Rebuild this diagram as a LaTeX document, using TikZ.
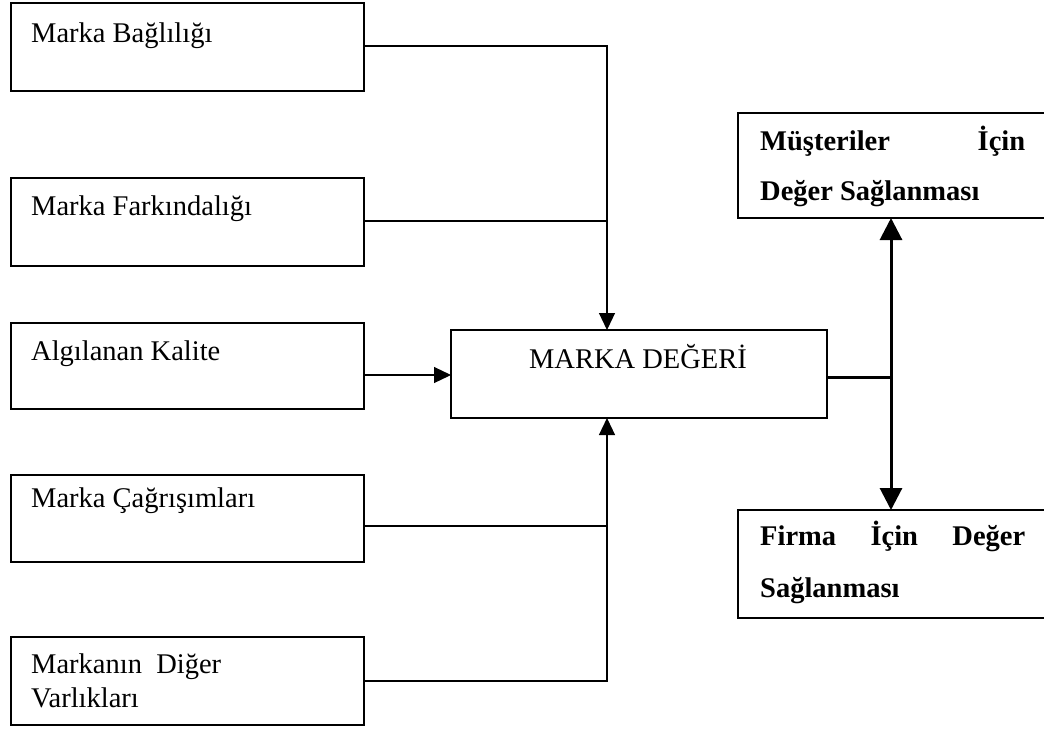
\documentclass[tikz,border=0pt]{standalone}
\usepackage{fontspec}
\setmainfont{Liberation Serif}
\usetikzlibrary{arrows.meta}
\begin{document}
\begin{tikzpicture}[x=1pt,y=-1pt,
  inbox/.style={draw, line width=1.2pt, minimum width=353pt, inner sep=0pt, outer sep=0pt},
  mainbox/.style={draw, line width=2.6pt, minimum width=376pt, minimum height=88pt, inner sep=0pt, outer sep=0pt},
  outbox/.style={draw, line width=2.6pt, minimum width=322pt, inner sep=0pt, outer sep=0pt},
  txt/.style={anchor=base west, inner sep=0pt, font=\fontsize{28.5}{34}\selectfont},
  btxt/.style={anchor=base west, inner sep=0pt, font=\fontsize{28.5}{34}\selectfont\bfseries},
  conn/.style={line width=1.2pt},
  connarr/.style={line width=1.2pt, -{Triangle[length=17pt,width=16pt]}},
  bigconn/.style={line width=3pt},
  bigarr/.style={line width=3pt, -{Triangle[length=22pt,width=22pt]}}
]
\useasboundingbox[fill=white] (0,0) rectangle (1044,729);

% left boxes
\node[inbox, minimum height=88pt] (b1) at (187.5,47) {};
\node[inbox, minimum height=88pt] (b2) at (187.5,222) {};
\node[inbox, minimum height=86pt] (b3) at (187.5,366) {};
\node[inbox, minimum height=87pt] (b4) at (187.5,518.5) {};
\node[inbox, minimum height=88pt] (b5) at (187.5,681) {};

\node[txt] (t1) at (31,42) {Marka Bağlılığı};
\node[txt] (t2) at (31,215) {Marka Farkındalığı};
\node[txt] (t3) at (31,360) {Algılanan Kalite};
\node[txt] (t4) at (31,507) {Marka Çağrışımları};
\node[txt] (t5a) at (31,673) {Markanın\ \ Diğer};
\node[txt] (t5b) at (31,707) {Varlıkları};

% main box
\node[mainbox] (m) at (639,374) {};
\node[txt, anchor=base] (mt) at (638,368) {MARKA DEĞERİ};

% right boxes
\node[outbox, minimum height=105pt] (rt) at (899,165.5) {};
\node[outbox, minimum height=108pt] (rb) at (899,564) {};
\node[btxt] (rt1) at (760,150) {\makebox[265pt][s]{Müşteriler\hfill İçin}};
\node[btxt] (rt2) at (760,200) {Değer Sağlanması};
\node[btxt] (rb1) at (760,545) {\makebox[265pt][s]{Firma\hfill İçin\hfill Değer}};
\node[btxt] (rb2) at (760,597) {Sağlanması};

% connectors
\coordinate (mtop) at (607,330);
\coordinate (mbot) at (607,418);
\coordinate (k1) at (364,46);
\coordinate (k2) at (364,221);
\coordinate (k3) at (364,375);
\coordinate (k4) at (364,526);
\coordinate (k5) at (364,681);
\coordinate (r) at (891,377);

\draw[connarr] (k1) -- (k1 -| mtop) -- (mtop);
\draw[conn] (k2) -- (k2 -| mtop);
\draw[connarr] (k3) -- (k3 -| m.west);
\draw[conn] (k4) -- (k4 -| mbot);
\draw[connarr] (k5) -- (k5 -| mbot) -- (mbot);

\draw[bigconn] (m.east |- r) -- (r);
\draw[bigarr] (r) -- (r |- rt.south);
\draw[bigarr] (r) -- (r |- rb.north);
\end{tikzpicture}
\end{document}
